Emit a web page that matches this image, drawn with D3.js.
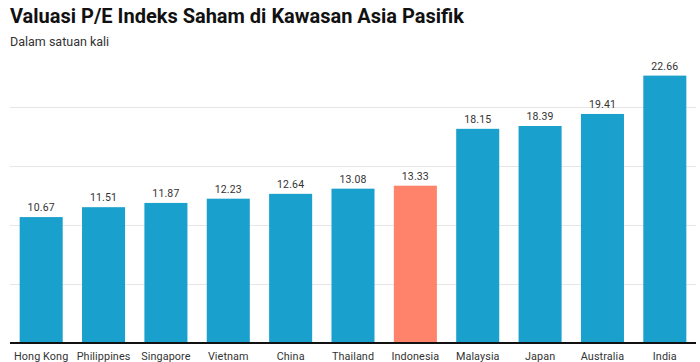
<!DOCTYPE html>
<html><head><meta charset="utf-8">
<script src="https://cdn.jsdelivr.net/npm/d3@7"></script>
<style>
body{margin:0;background:#fff;}
svg{display:block;font-family:Roboto,"Noto Sans",sans-serif;}
</style></head>
<body><svg id="c" width="700" height="362"></svg>
<script>
const categories = ["Hong Kong","Philippines","Singapore","Vietnam","China","Thailand","Indonesia","Malaysia","Japan","Australia","India"];
const values = [10.67,11.51,11.87,12.23,12.64,13.08,13.33,18.15,18.39,19.41,22.66];
const highlight = "Indonesia";
const gridTicks = [5,10,15,20];
const title = "Valuasi P/E Indeks Saham di Kawasan Asia Pasifik";
const subtitle = "Dalam satuan kali";

const svg = d3.select("#c");
const plot = {left:10, right:696, top:48, bottom:343};

const x = d3.scaleBand().domain(categories).range([plot.left, plot.right]).paddingInner(0.31).paddingOuter(0.155);
const y = d3.scaleLinear().domain([0,25]).range([plot.bottom, plot.bottom - 25*11.8]);

svg.append("text").attr("x",10).attr("y",23).attr("font-size",20).attr("font-weight",700).attr("fill","#111").text(title);
svg.append("text").attr("x",10).attr("y",46).attr("font-size",12.5).attr("fill","#333").text(subtitle);

svg.append("g").selectAll("line").data(gridTicks).join("line")
  .attr("x1",plot.left).attr("x2",plot.right)
  .attr("y1",d=>Math.round(y(d))+0.5).attr("y2",d=>Math.round(y(d))+0.5)
  .attr("stroke","#e6e6e6").attr("stroke-width",1);

const data = categories.map((c,i)=>({c, v:values[i]}));
svg.append("g").selectAll("rect").data(data).join("rect")
  .attr("x",d=>x(d.c)).attr("width",x.bandwidth())
  .attr("y",d=>y(d.v)).attr("height",d=>y(0)-y(d.v))
  .attr("fill",d=>d.c===highlight?"#ff826b":"#1aa0cc");

svg.append("g").selectAll("text").data(data).join("text")
  .attr("x",d=>x(d.c)+x.bandwidth()/2).attr("y",d=>y(d.v)-6)
  .attr("text-anchor","middle").attr("font-size",10.5).attr("fill","#333")
  .attr("letter-spacing",0.15)
  .text(d=>d3.format(".2f")(d.v));

const xAxis = svg.append("g").attr("transform",`translate(0,${plot.bottom})`)
  .call(d3.axisBottom(x).tickSize(0).tickPadding(0));
xAxis.select(".domain").attr("stroke","#111").attr("stroke-width",2).attr("d",`M${plot.left},0H${plot.right}`);
xAxis.selectAll("text").attr("font-family","Roboto,'Noto Sans',sans-serif").attr("font-size",10.8).attr("fill","#333")
  .attr("letter-spacing",0.1)
  .attr("dy",null).attr("y",16.5);
</script></body></html>
